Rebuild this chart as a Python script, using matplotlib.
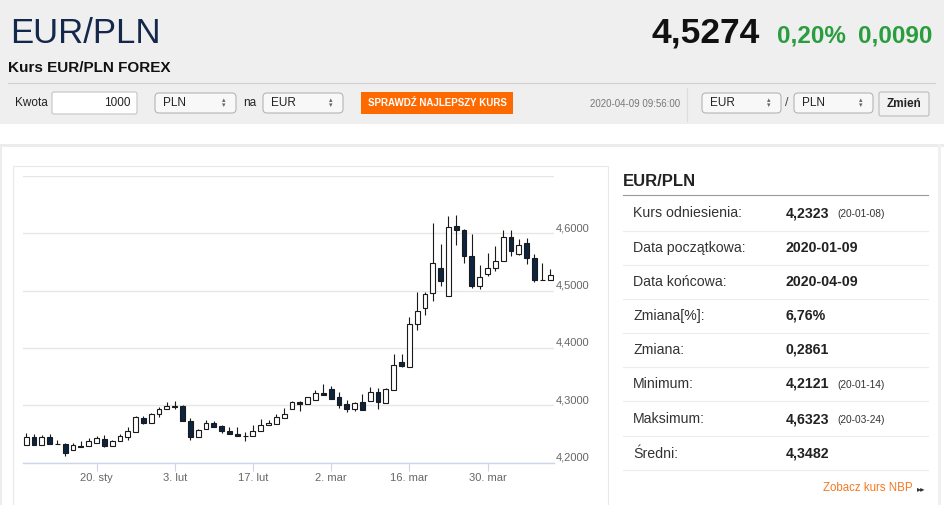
import numpy as np
import pandas as pd
import matplotlib
matplotlib.use('Agg')
import matplotlib.pyplot as plt
from matplotlib.patches import Rectangle, FancyBboxPatch
from matplotlib.transforms import ScaledTranslation

# EUR/PLN daily candles, 2020-01-07 .. 2020-04-09
dates = pd.bdate_range('2020-01-07', '2020-04-09')
opens = [4.231, 4.244, 4.231, 4.244, 4.233, 4.232, 4.222, 4.229, 4.229, 4.235,
         4.241, 4.229, 4.238, 4.245, 4.253, 4.278, 4.269, 4.284, 4.294, 4.299,
         4.299, 4.273, 4.244, 4.259, 4.269, 4.264, 4.255, 4.250, 4.247, 4.246,
         4.256, 4.265, 4.268, 4.278, 4.294, 4.306, 4.303, 4.310, 4.322, 4.329,
         4.315, 4.303, 4.294, 4.306, 4.307, 4.324, 4.304, 4.327, 4.375, 4.367,
         4.441, 4.470, 4.495, 4.540, 4.490, 4.612, 4.606, 4.560, 4.507, 4.529,
         4.539, 4.551, 4.594, 4.563, 4.583, 4.557, 4.518, 4.518]
highs = [4.251, 4.250, 4.248, 4.250, 4.240, 4.234, 4.234, 4.238, 4.243, 4.247,
         4.248, 4.240, 4.250, 4.262, 4.281, 4.282, 4.287, 4.297, 4.306, 4.307,
         4.300, 4.278, 4.258, 4.275, 4.272, 4.266, 4.262, 4.263, 4.254, 4.265,
         4.277, 4.275, 4.285, 4.295, 4.307, 4.307, 4.315, 4.327, 4.337, 4.334,
         4.324, 4.309, 4.306, 4.320, 4.332, 4.331, 4.331, 4.389, 4.389, 4.453,
         4.498, 4.498, 4.618, 4.581, 4.630, 4.632, 4.607, 4.599, 4.545, 4.566,
         4.577, 4.605, 4.606, 4.589, 4.592, 4.563, 4.548, 4.537]
lows = [4.230, 4.230, 4.230, 4.232, 4.232, 4.212, 4.222, 4.228, 4.229, 4.235,
        4.228, 4.229, 4.238, 4.239, 4.253, 4.267, 4.269, 4.279, 4.294, 4.293,
        4.272, 4.239, 4.244, 4.259, 4.262, 4.251, 4.250, 4.246, 4.238, 4.246,
        4.256, 4.265, 4.268, 4.278, 4.294, 4.290, 4.303, 4.310, 4.318, 4.311,
        4.296, 4.288, 4.290, 4.291, 4.307, 4.293, 4.304, 4.327, 4.366, 4.367,
        4.431, 4.457, 4.482, 4.508, 4.490, 4.580, 4.548, 4.504, 4.502, 4.525,
        4.534, 4.551, 4.560, 4.561, 4.547, 4.514, 4.518, 4.518]
closes = [4.244, 4.231, 4.244, 4.232, 4.232, 4.217, 4.230, 4.228, 4.238, 4.243,
          4.229, 4.238, 4.247, 4.255, 4.279, 4.269, 4.285, 4.294, 4.299, 4.297,
          4.273, 4.245, 4.257, 4.269, 4.262, 4.255, 4.250, 4.246, 4.246, 4.256,
          4.266, 4.269, 4.279, 4.285, 4.306, 4.302, 4.314, 4.322, 4.318, 4.311,
          4.301, 4.294, 4.304, 4.291, 4.324, 4.305, 4.328, 4.371, 4.369, 4.441,
          4.465, 4.494, 4.548, 4.516, 4.611, 4.606, 4.560, 4.507, 4.523, 4.540,
          4.551, 4.594, 4.568, 4.579, 4.557, 4.518, 4.519, 4.527]

tick_dates = ['2020-01-20', '2020-02-03', '2020-02-17', '2020-03-02', '2020-03-16', '2020-03-30']
tick_labels = ['20. sty', '3. lut', '17. lut', '2. mar', '16. mar', '30. mar']
y_ticks = [4.2, 4.3, 4.4, 4.5, 4.6, 4.7]

# side table
stat_labels = ['Kurs odniesienia:', 'Data początkowa:', 'Data końcowa:', 'Zmiana[%]:',
               'Zmiana:', 'Minimum:', 'Maksimum:', 'Średni:']
stat_values = ['4,2323', '2020-01-09', '2020-04-09', '6,76%', '0,2861', '4,2121', '4,6323', '4,3482']
stat_notes = ['(20-01-08)', '', '', '', '', '(20-01-14)', '(20-03-24)', '']

W, H = 945, 505
plt.rcParams['font.family'] = ['Liberation Sans', 'DejaVu Sans']
fig = plt.figure(figsize=(W / 100, H / 100), dpi=100)
fig.patch.set_facecolor('white')

# background axes in pixel units (y down)
bg = fig.add_axes([0, 0, 1, 1])
bg.set_xlim(0, W)
bg.set_ylim(H, 0)
bg.axis('off')

def box(x0, y0, x1, y1, fc, ec, r=0, lw=0.8, z=1):
    if r:
        p = FancyBboxPatch((x0, y0), x1 - x0, y1 - y0, boxstyle=f'round,pad=0,rounding_size={r}',
                           fc=fc, ec=ec, lw=lw, zorder=z)
    else:
        p = Rectangle((x0, y0), x1 - x0, y1 - y0, fc=fc, ec=ec, lw=lw, zorder=z)
    bg.add_patch(p)

# header band
box(0, 0, W, 124, '#efefef', 'none', lw=0)
bg.text(10, 43, 'EUR/PLN', fontsize=25, color='#14284b', va='baseline')
bg.text(760, 43, '4,5274', fontsize=25.5, fontweight='bold', color='#111', ha='right', va='baseline')
bg.text(777, 43, '0,20%', fontsize=17.5, fontweight='bold', color='#2a9d3e', va='baseline')
bg.text(858, 43, '0,0090', fontsize=17.5, fontweight='bold', color='#2a9d3e', va='baseline')
bg.text(8, 72, 'Kurs EUR/PLN FOREX', fontsize=11, fontweight='bold', color='#111', va='baseline')
bg.plot([8, 935], [83, 83], color='#cfcfcf', lw=0.8)

# controls row
bg.text(15, 103, 'Kwota', fontsize=8.5, color='#222', va='center')
box(52, 92, 137, 114, 'white', '#c4c4c4', r=2)
bg.text(131, 103, '1000', fontsize=8.5, color='#222', va='center', ha='right')
for x0, x1, lab in [(155, 236, 'PLN'), (263, 343, 'EUR'), (702, 781, 'EUR'), (794, 873, 'PLN')]:
    box(x0, 93, x1, 113, '#f8f8f8', '#b5b5b5', r=4)
    bg.text(x0 + 8, 102.5, lab, fontsize=8.5, color='#222', va='center')
    bg.text(x1 - 12, 100, '▴', fontsize=5, color='#666', ha='center', va='center',
            family=['DejaVu Sans'])
    bg.text(x1 - 12, 105.5, '▾', fontsize=5, color='#666', ha='center', va='center',
            family=['DejaVu Sans'])
bg.text(243, 103, 'na', fontsize=8.5, color='#222', va='center')
bg.text(785, 103, '/', fontsize=9, color='#444', va='center')
box(361, 92, 513, 114, '#ff6a00', 'none', lw=0)
bg.text(437, 103, 'SPRAWDŹ NAJLEPSZY KURS', fontsize=7, fontweight='bold', color='white',
        ha='center', va='center')
bg.text(680, 104, '2020-04-09 09:56:00', fontsize=7, color='#777', ha='right', va='center')
bg.plot([687, 687], [88, 121], color='#dcdcdc', lw=0.8)
box(879, 92, 929, 116, '#f2f2f2', '#bcbcbc', r=2)
bg.text(904, 104, 'Zmień', fontsize=8.5, fontweight='bold', color='#222', ha='center', va='center')

# card frame + chart frame
box(0, 144, W, 147, '#ececec', 'none', lw=0)
box(0, 144, 2, H, '#ececec', 'none', lw=0)
box(938, 144, 941, H, '#f0f0f0', 'none', lw=0)
box(13, 166, 608, H + 5, 'none', '#e9e9e9', lw=0.8)

# side panel
bg.text(623, 186, 'EUR/PLN', fontsize=12, fontweight='bold', color='#222', va='baseline')
bg.plot([623, 928], [195, 195], color='#9a9a9a', lw=0.8)
row_y = [213, 248, 282, 316, 350, 384, 419, 454]
sep_y = [231, 265, 299, 333, 367, 401, 436, 470]
for i in range(len(stat_labels)):
    bg.text(633, row_y[i], stat_labels[i], fontsize=10.2, color='#333', va='center')
    bg.text(786, row_y[i], stat_values[i], fontsize=10.2, fontweight='bold', color='#222', va='center')
    if stat_notes[i]:
        bg.text(837, row_y[i] + 1, stat_notes[i], fontsize=7.3, color='#333', va='center')
    bg.plot([623, 928], [sep_y[i], sep_y[i]], color='#ececec', lw=0.8)
bg.text(823, 488, 'Zobacz kurs NBP', fontsize=8.3, color='#f47920', va='center')
bg.text(917, 488.5, '▸▸', fontsize=6, color='#333', va='center', family=['DejaVu Sans'])

# candle chart
left, right, top, bottom = 23, 554, 175.7, 462.7
ax = fig.add_axes([left / W, (H - bottom) / H, (right - left) / W, (bottom - top) / H])
ax.set_facecolor('none')

x = np.arange(len(dates))
o = np.array(opens)
h = np.array(highs)
l = np.array(lows)
c = np.array(closes)
up = c >= o
fills = np.where(up, 'white', '#0c2442')

ax.vlines(x, l, h, color='#1a1a1a', lw=0.8, zorder=2)
ax.bar(x, np.abs(c - o), bottom=np.minimum(o, c), width=0.62, color=fills,
       edgecolor='#1a1a1a', linewidth=0.8, zorder=3)

ax.set_xlim(-0.4, len(dates) - 0.5)
ax.set_ylim(4.2, 4.7)
ax.set_yticks(y_ticks)
ax.set_yticklabels([f'{v:.4f}'.replace('.', ',') for v in y_ticks[:-1]] + [''])
ax.yaxis.tick_right()
ax.tick_params(axis='y', length=0, pad=1.5, labelsize=8, labelcolor='#666')
offset = ScaledTranslation(0, 6 / 100, fig.dpi_scale_trans)
for lab in ax.get_yticklabels():
    lab.set_transform(lab.get_transform() + offset)
ax.grid(axis='y', color='#e6e6e6', lw=1.0)
ax.set_axisbelow(True)

tick_pos = [dates.get_loc(pd.Timestamp(d)) for d in tick_dates]
ax.set_xticks(tick_pos)
ax.set_xticklabels(tick_labels)
ax.tick_params(axis='x', length=6, width=0.8, color='#ccd6eb', pad=1.5, labelsize=8, labelcolor='#666')
for s in ['top', 'left', 'right']:
    ax.spines[s].set_visible(False)
ax.spines['bottom'].set_color('#ccd6eb')
ax.spines['bottom'].set_linewidth(1.0)

fig.savefig('out.png', dpi=100)
